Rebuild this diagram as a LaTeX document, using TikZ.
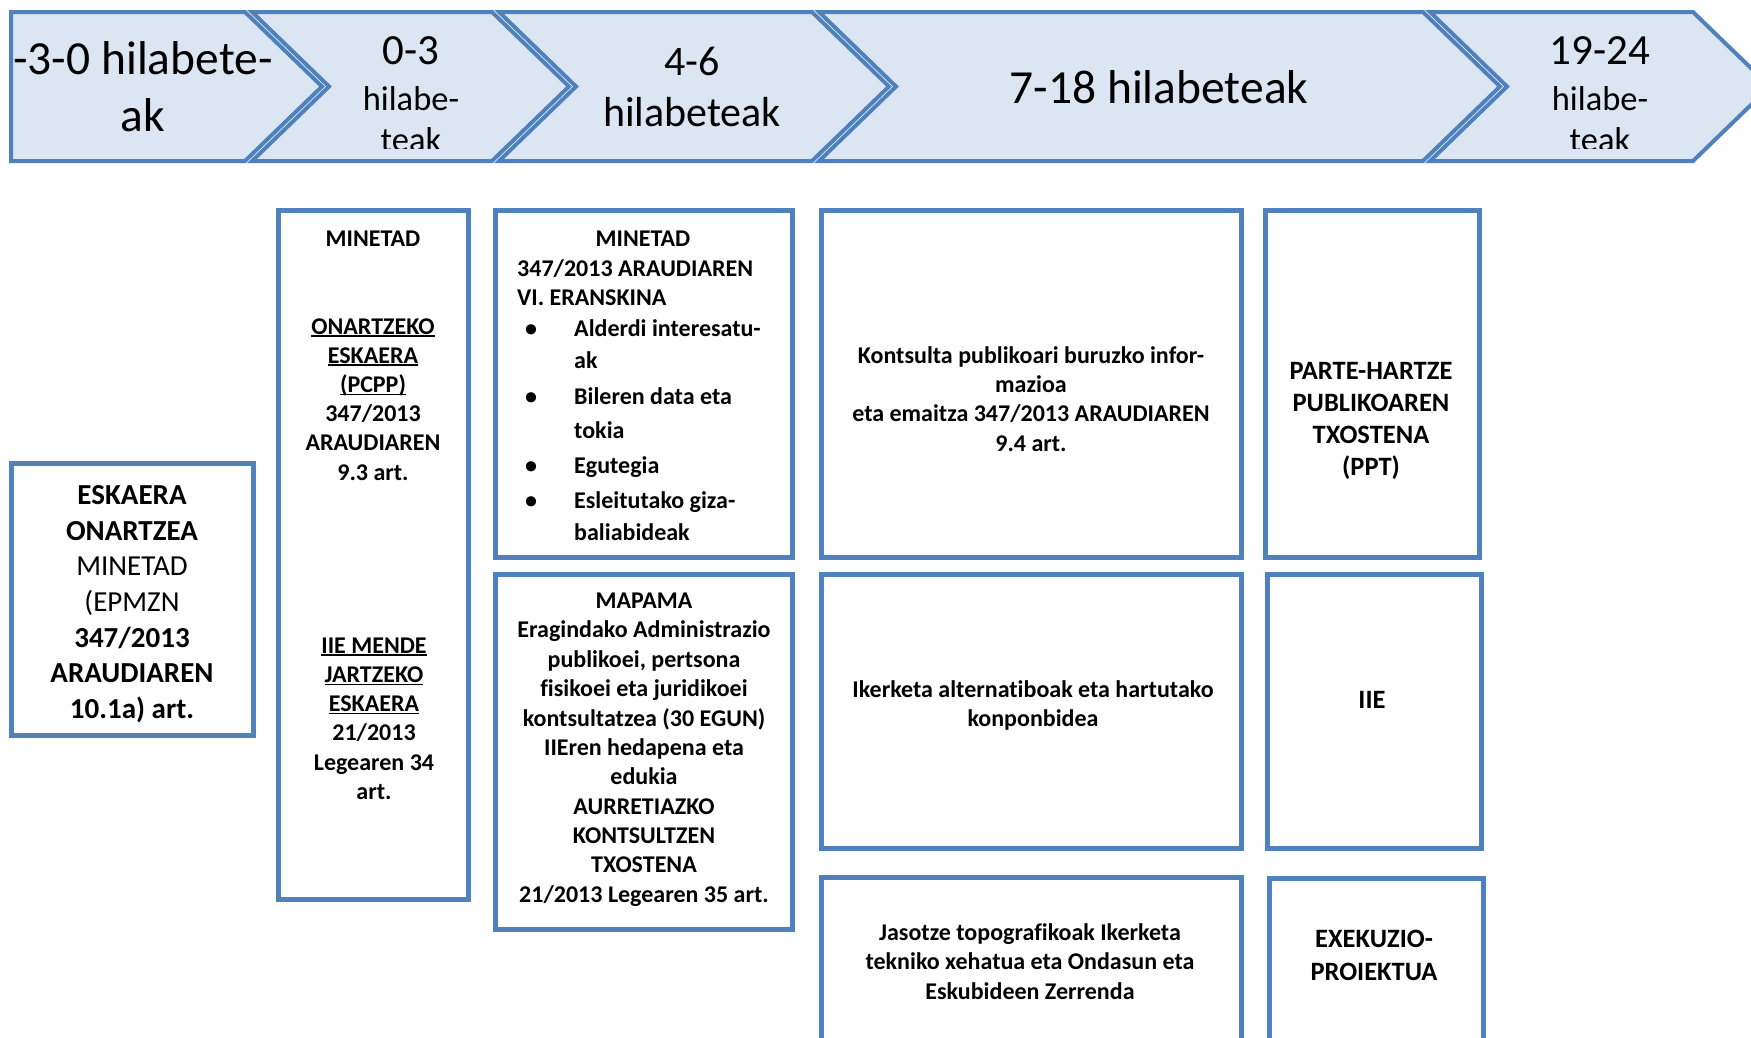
\documentclass[tikz,border=0pt]{standalone}
\usepackage{fontspec}
\setmainfont[Ligatures=NoCommon]{Carlito}
\definecolor{bordblue}{HTML}{4F81BD}
\definecolor{chevfill}{HTML}{DCE6F2}
\newcommand\myul[1]{\setbox0\hbox{#1}\rlap{\rule[-0.12em]{\wd0}{0.07em}}\box0}
\newcommand\txtlines[6]{\foreach \mytext [count=\myi] in {#6} {\node[#5,anchor=base] (#1\myi) at ({#2},{#3+(\myi-1)*(#4)}) {\mytext};}}
\begin{document}
\begin{tikzpicture}[x=1pt,y=-1pt,
  chev/.style={fill=chevfill,draw=bordblue,line width=4pt,line join=miter},
  boxr/.style={draw=bordblue,line width=5pt,fill=white,inner sep=0pt,rectangle},
  tA/.style={font=\fontsize{29}{35}\selectfont,inner sep=0pt},
  tB/.style={font=\bfseries\fontsize{24}{29}\selectfont,inner sep=0pt},
  tW/.style={font=\bfseries\fontsize{26.5}{32}\selectfont,inner sep=0pt},
  cBig/.style={font=\fontsize{47.5}{57}\selectfont,inner sep=0pt},
  cNum/.style={font=\fontsize{43}{50}\selectfont,inner sep=0pt},
  cSmall/.style={font=\fontsize{34.5}{41}\selectfont,inner sep=0pt},
  cMid/.style={font=\fontsize{42}{50}\selectfont,inner sep=0pt}]
\clip (0,0) rectangle (1751,1037);
\fill[white] (0,0) rectangle (1751,1037);
% chevrons
\draw[chev] (11,12) -- (245,12) -- (322,86.5) -- (245,161) -- (11,161) -- cycle;
\draw[chev] (252,12) -- (492,12) -- (569,86.5) -- (492,161) -- (252,161) -- (329,86.5) -- cycle;
\draw[chev] (499,12) -- (812,12) -- (889,86.5) -- (812,161) -- (499,161) -- (576,86.5) -- cycle;
\draw[chev] (819,12) -- (1423,12) -- (1500,86.5) -- (1423,161) -- (819,161) -- (896,86.5) -- cycle;
\draw[chev] (1430,12) -- (1693,12) -- (1770,86.5) -- (1693,161) -- (1430,161) -- (1507,86.5) -- cycle;
% chevron texts
\txtlines{ca}{143}{74}{57}{cBig}{{-3-0 hilabete-},{ak}}
\begin{scope}
\clip (252,0) rectangle (569,148);
\node[cNum,anchor=base] (cb1) at (411,64.5) {0-3};
\node[cSmall,anchor=base] (cb2) at (411,110) {hilabe-};
\node[cSmall,anchor=base] (cb3) at (411,151) {teak};
\end{scope}
\txtlines{cc}{692}{75}{51}{cMid}{{4-6},{hilabeteak}}
\node[cBig,anchor=base] (cd1) at (1159,103) {7-18 hilabeteak};
\begin{scope}
\clip (1430,0) rectangle (1751,148);
\node[cNum,anchor=base] (ce1) at (1600,64.5) {19-24};
\node[cSmall,anchor=base] (ce2) at (1600,110) {hilabe-};
\node[cSmall,anchor=base] (ce3) at (1600,151) {teak};
\end{scope}
% boxes
\node[boxr,minimum width=242pt,minimum height=272pt] (boxA) at (132,599) {};
\node[boxr,minimum width=190pt,minimum height=689pt] (boxB) at (373,554.5) {};
\node[boxr,minimum width=297pt,minimum height=347pt] (boxC) at (643.5,383.5) {};
\node[boxr,minimum width=297pt,minimum height=355pt] (boxD) at (643.5,751.5) {};
\node[boxr,minimum width=420pt,minimum height=347pt] (boxE) at (1031,383.5) {};
\node[boxr,minimum width=420pt,minimum height=274pt] (boxF) at (1031,711) {};
\node[boxr,minimum width=420pt,minimum height=193pt] (boxG) at (1031,973.5) {};
\node[boxr,minimum width=214pt,minimum height=347pt] (boxH) at (1372,383.5) {};
\node[boxr,minimum width=214pt,minimum height=274pt] (boxI) at (1374,711) {};
\node[boxr,minimum width=214pt,minimum height=192pt] (boxJ) at (1376,974) {};
% box A
\txtlines{ta}{132}{504.3}{35.7}{tA}{{\textbf{ESKAERA}},{\textbf{ONARTZEA}},{MINETAD},{(EPMZN},{\textbf{347/2013}},{\textbf{ARAUDIAREN}},{\textbf{10.1a) art.}}}
% box B
\node[tB,anchor=base] (tb0) at (373,246) {MINETAD};
\txtlines{tb}{373}{334}{29.2}{tB}{{\myul{ONARTZEKO}},{\myul{ESKAERA}},{\myul{(PCPP)}},{347/2013},{ARAUDIAREN},{9.3 art.}}
\txtlines{tbb}{374}{653}{29.3}{tB}{{\myul{IIE MENDE}},{\myul{JARTZEKO}},{\myul{ESKAERA}},{21/2013},{Legearen 34},{art.}}
% box C
\node[tB,anchor=base] (tc0) at (643,246) {MINETAD};
\node[tB,anchor=base west] (tc1) at (517,276) {347/2013 ARAUDIAREN};
\node[tB,anchor=base west] (tc2) at (517,305) {VI. ERANSKINA};
\node[tB,anchor=base] (bu1) at (531,336) {•};
\node[tB,anchor=base] (bu2) at (531,404) {•};
\node[tB,anchor=base] (bu3) at (531,473.5) {•};
\node[tB,anchor=base] (bu4) at (531,508) {•};
\node[tB,anchor=base west] (tc3) at (574,336) {Alderdi interesatu-};
\node[tB,anchor=base west] (tc4) at (574,368.5) {ak};
\node[tB,anchor=base west] (tc5) at (574,404) {Bileren data eta};
\node[tB,anchor=base west] (tc6) at (574,438) {tokia};
\node[tB,anchor=base west] (tc7) at (574,473.5) {Egutegia};
\node[tB,anchor=base west] (tc8) at (574,508) {Esleitutako giza-};
\node[tB,anchor=base west] (tc9) at (574,540.5) {baliabideak};
% box D
\txtlines{td}{644}{608.6}{29.35}{tB}{{MAPAMA},{Eragindako Administrazio},{publikoei, pertsona},{fisikoei eta juridikoei},{kontsultatzea (30 EGUN)},{IIEren hedapena eta},{edukia},{AURRETIAZKO},{KONTSULTZEN},{TXOSTENA},{21/2013 Legearen 35 art.}}
% box E
\txtlines{te}{1031}{363}{29.4}{tB}{{Kontsulta publikoari buruzko infor-},{mazioa},{eta emaitza 347/2013 ARAUDIAREN},{9.4 art.}}
% box F
\txtlines{tf}{1033}{697}{29}{tB}{{Ikerketa alternatiboak eta hartutako},{konponbidea}}
% box G
\txtlines{tg}{1030}{940}{29.5}{tB}{{Jasotze topografikoak Ikerketa},{tekniko xehatua eta Ondasun eta},{Eskubideen Zerrenda}}
% box H, I, J
\txtlines{th}{1371}{379.5}{32}{tW}{{PARTE-HARTZE},{PUBLIKOAREN},{TXOSTENA},{(PPT)}}
\node[tW,anchor=base] (ti1) at (1372,708.5) {IIE};
\txtlines{tj}{1374}{947.5}{33}{tW}{{EXEKUZIO-},{PROIEKTUA}}
\end{tikzpicture}
\end{document}
